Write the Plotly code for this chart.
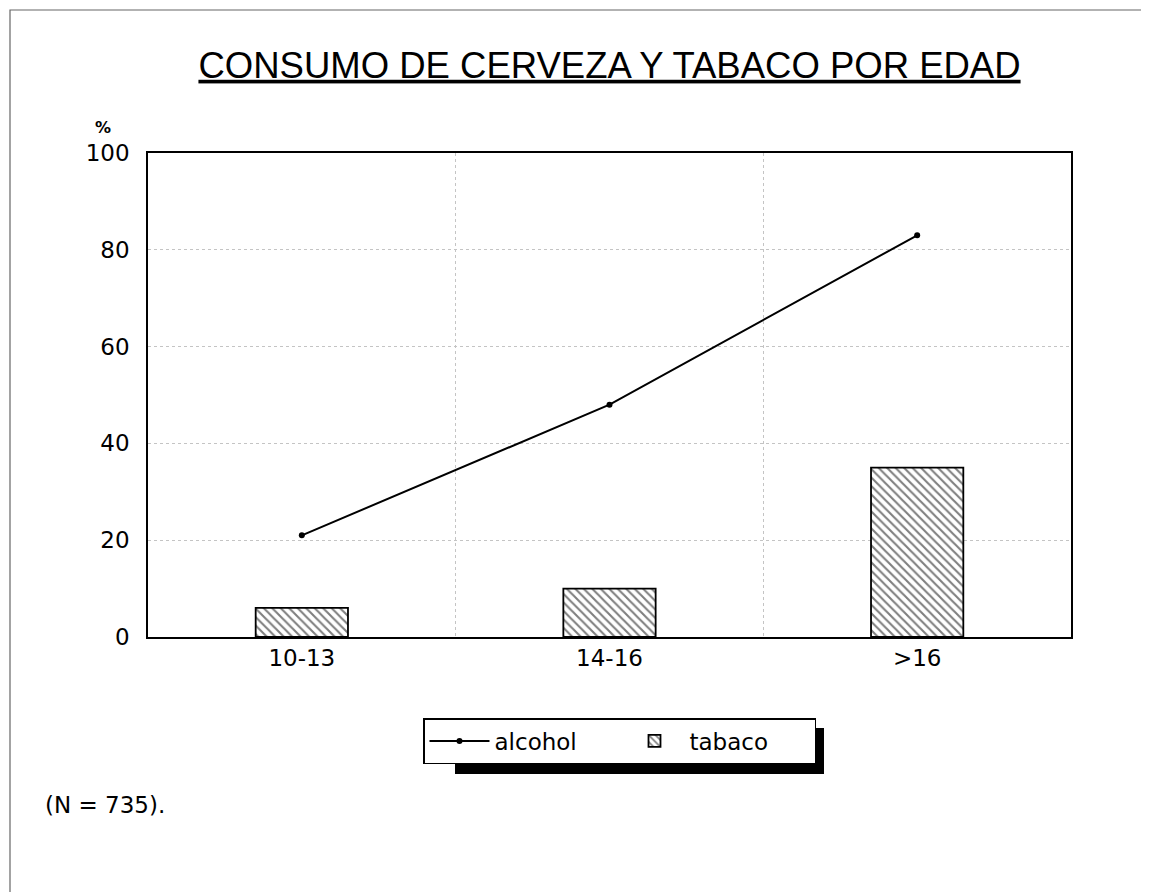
import plotly.graph_objects as go

# datos
edades = ['10-13', '14-16', '>16']
alcohol = [21, 48, 83]
tabaco = [6, 10, 35]
y_ticks = [0, 20, 40, 60, 80, 100]

TITLE_FONT = "Liberation Sans, Arial, Helvetica, sans-serif"
FONT = "DejaVu Sans, Verdana, sans-serif"

# la página tiene 8 px de margen; área del gráfico en 148..1071 x 153..637
W, H = 1141, 884
L, T = 140, 145
PW, PH = 923, 484


def px(x):
    return (x - 148) / PW


def py(y):
    return (637 - y) / PH


fig = go.Figure()

fig.add_trace(go.Bar(
    x=edades,
    y=tabaco,
    name='tabaco',
    width=0.3,
    marker=dict(
        color='white',
        line=dict(color='black', width=1.8),
        pattern=dict(shape='\\', fgcolor='black', bgcolor='white',
                     size=6, solidity=0.35)
    )
))

fig.add_trace(go.Scatter(
    x=edades,
    y=alcohol,
    name='alcohol',
    mode='lines+markers',
    line=dict(color='black', width=2),
    marker=dict(color='black', size=6)
))

fig.update_layout(
    width=W,
    height=H,
    margin=dict(l=L, r=W - L - PW, t=T, b=H - T - PH),
    paper_bgcolor='white',
    plot_bgcolor='white',
    font=dict(family=FONT, color='black', size=23),
    title=dict(
        text='<u>CONSUMO DE CERVEZA Y TABACO POR EDAD</u>',
        x=0.5, xref='paper', xanchor='center',
        y=1 - 57 / H, yanchor='middle',
        font=dict(family=TITLE_FONT, size=36.5, color='black')
    ),
    showlegend=True,
    legend=dict(
        orientation='h',
        x=px(423), xanchor='left',
        y=py(718), yanchor='top',
        bgcolor='white',
        bordercolor='black',
        borderwidth=1.5,
        font=dict(family=FONT, size=23, color='black'),
        traceorder='reversed',
        itemwidth=60,
        entrywidth=120,
    ),
    bargap=0.7,
)

fig.update_xaxes(
    type='category',
    range=[-0.5, 2.5],
    tickson='boundaries',
    ticks='',
    showline=True, linecolor='black', linewidth=1.5, mirror=True,
    showgrid=True, gridcolor='#c4c4c4', griddash='dot', gridwidth=1,
    tickfont=dict(size=23),
)

fig.update_yaxes(
    range=[0, 100],
    tickvals=y_ticks,
    ticks='',
    showline=True, linecolor='black', linewidth=1.5, mirror=True,
    showgrid=True, gridcolor='#c4c4c4', griddash='dot', gridwidth=1,
    zeroline=False,
    tickfont=dict(size=23),
    ticklabelstandoff=12,
)

# sombra de la leyenda
fig.add_shape(
    type='rect', xref='paper', yref='paper',
    x0=px(455), x1=px(824), y0=py(728), y1=py(774),
    fillcolor='black', line=dict(width=0), layer='below'
)

# marco de la página
fig.add_shape(
    type='rect', xref='paper', yref='paper',
    x0=px(10), x1=px(1180), y0=py(920), y1=py(10),
    line=dict(color='#666666', width=1.2), fillcolor='rgba(0,0,0,0)'
)

fig.add_annotation(
    text='<b>%</b>', xref='paper', yref='paper',
    x=px(103), y=py(127), xanchor='center', yanchor='middle',
    showarrow=False, font=dict(size=16, family=FONT)
)

fig.add_annotation(
    text='(N = 735).', xref='paper', yref='paper',
    x=px(43), y=py(805), xanchor='left', yanchor='middle',
    showarrow=False, font=dict(size=23, family=FONT)
)

fig.write_html("out.html")
